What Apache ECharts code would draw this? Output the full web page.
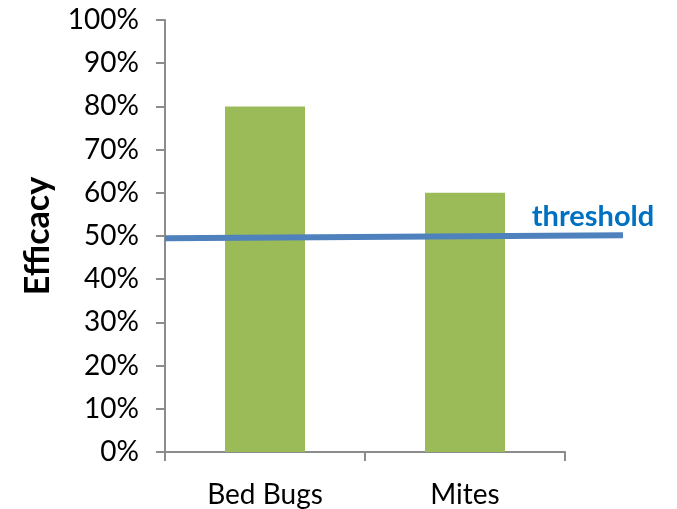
<!DOCTYPE html>
<html>
<head>
<meta charset="utf-8">
<script src="https://cdn.jsdelivr.net/npm/echarts@6/dist/echarts.min.js"></script>
<style>
  html, body { margin: 0; padding: 0; background: #fff; }
  #chart { width: 677px; height: 509px; }
</style>
</head>
<body>
<div id="chart"></div>
<script>
// chart data
var categories = ["Bed Bugs", "Mites"];
var efficacy = [80, 60];
var thresholdX = [0, 1];         // start and end of the threshold line (0..1 of its own span)
var thresholdY = [49.7, 50.4];
var thresholdName = "threshold";

var font = "Lato, 'Open Sans', sans-serif";
var axisGray = "#8c8c8c";

var chart = echarts.init(document.getElementById("chart"));

chart.setOption({
  animation: false,
  backgroundColor: "#ffffff",
  grid: [
    { left: 165, right: 112, top: 20, bottom: 55 },
    // the threshold line runs past the last category, so it gets a wider grid
    { left: 165, right: 54, top: 20, bottom: 55 }
  ],
  xAxis: [
    {
      type: "category",
      gridIndex: 0,
      data: categories,
      axisLine: { lineStyle: { color: axisGray, width: 2 } },
      axisTick: { show: true, length: 9, lineStyle: { color: axisGray, width: 2 } },
      axisLabel: { color: "#000", fontFamily: font, fontSize: 28, margin: 29 }
    },
    { type: "value", gridIndex: 1, min: 0, max: 1, show: false }
  ],
  yAxis: [
    {
      type: "value",
      gridIndex: 0,
      min: 0,
      max: 100,
      interval: 10,
      name: "Efficacy",
      nameLocation: "middle",
      nameGap: 110,
      nameRotate: 90,
      nameTextStyle: { color: "#000", fontFamily: font, fontSize: 34, fontWeight: "bold" },
      axisLine: { show: true, lineStyle: { color: axisGray, width: 2 } },
      axisTick: { show: true, length: 9, lineStyle: { color: axisGray, width: 2 } },
      splitLine: { show: false },
      axisLabel: {
        formatter: "{value}%",
        color: "#000",
        fontFamily: font,
        fontSize: 28,
        margin: 26
      }
    },
    { type: "value", gridIndex: 1, min: 0, max: 100, show: false }
  ],
  series: [
    {
      type: "bar",
      xAxisIndex: 0,
      yAxisIndex: 0,
      data: efficacy,
      barWidth: "40%",
      itemStyle: { color: "#9bbb59" }
    },
    {
      type: "line",
      xAxisIndex: 1,
      yAxisIndex: 1,
      symbol: "circle",
      symbolSize: 0,
      showSymbol: true,
      lineStyle: { color: "#4f81bd", width: 6 },
      data: [
        [thresholdX[0], thresholdY[0]],
        {
          value: [thresholdX[1], thresholdY[1]],
          label: {
            show: true,
            formatter: thresholdName,
            position: "top",
            offset: [-30, 1],
            color: "#0070c0",
            fontFamily: font,
            fontWeight: "bold",
            fontSize: 29
          }
        }
      ]
    }
  ]
});
</script>
</body>
</html>
